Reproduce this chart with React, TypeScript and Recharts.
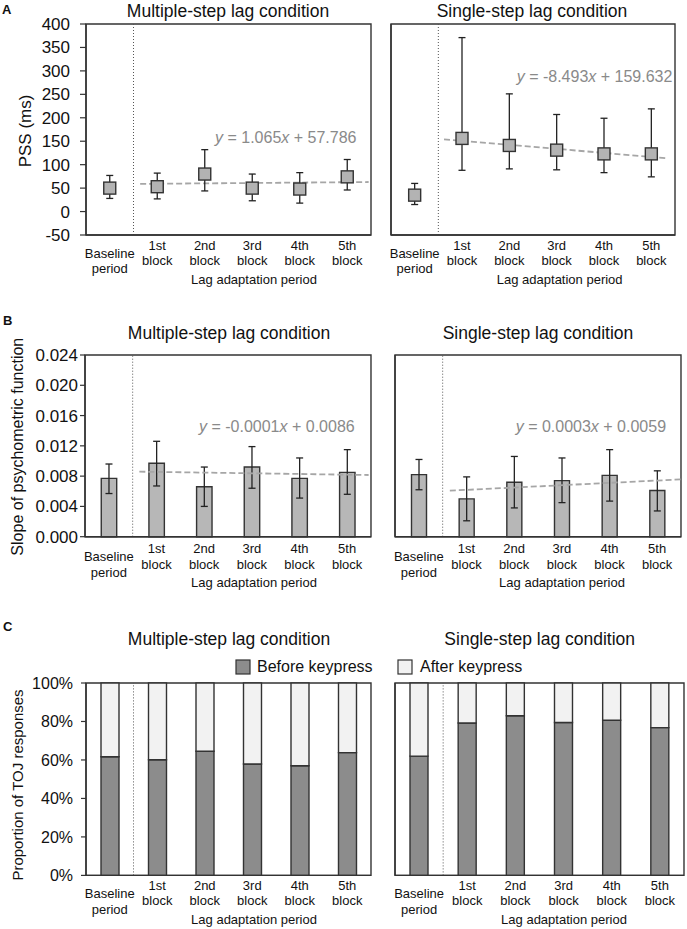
import React from 'react'
import {
  ComposedChart,
  Bar,
  Line,
  Scatter,
  ErrorBar,
  XAxis,
  YAxis,
  ReferenceLine,
  ReferenceArea,
} from 'recharts'

const FONT = '"Liberation Sans", Arial, sans-serif'
const INK = '#333333'

// categories: baseline = 0, blocks 1..5
const CATEGORY_X = [0, 1, 2, 3, 4, 5]
const CATEGORY_LINES = [
  ['Baseline', 'period'],
  ['1st', 'block'],
  ['2nd', 'block'],
  ['3rd', 'block'],
  ['4th', 'block'],
  ['5th', 'block'],
]

// A: PSS (ms)
const PSS_TICKS = [-50, 0, 50, 100, 150, 200, 250, 300, 350, 400]
const PSS_MULTI = [50, 53, 80, 50, 48, 74]
const PSS_MULTI_HI = [77, 82, 132, 80, 83, 111]
const PSS_MULTI_LO = [28, 27, 44, 23, 18, 46]
const PSS_SINGLE = [35, 156, 141, 131, 123, 123]
const PSS_SINGLE_HI = [60, 371, 251, 207, 199, 219]
const PSS_SINGLE_LO = [15, 88, 91, 89, 83, 74]
const PSS_MULTI_TREND = [{ x: 0.64, y: 59 }, { x: 5.45, y: 63 }]
const PSS_SINGLE_TREND = [{ x: 0.62, y: 154 }, { x: 5.3, y: 114 }]

// B: slope of psychometric function
const SLOPE_TICKS = [0, 0.004, 0.008, 0.012, 0.016, 0.02, 0.024]
const SLOPE_MULTI = [0.0077, 0.0097, 0.0066, 0.0092, 0.0077, 0.0085]
const SLOPE_MULTI_HI = [0.0096, 0.0126, 0.0092, 0.0119, 0.0104, 0.0115]
const SLOPE_MULTI_LO = [0.0057, 0.0067, 0.004, 0.0064, 0.0051, 0.0056]
const SLOPE_SINGLE = [0.0082, 0.005, 0.0072, 0.0074, 0.0081, 0.0061]
const SLOPE_SINGLE_HI = [0.0102, 0.0079, 0.0106, 0.0104, 0.0115, 0.0087]
const SLOPE_SINGLE_LO = [0.0062, 0.0021, 0.0038, 0.0045, 0.0047, 0.0034]
const SLOPE_MULTI_TREND = [{ x: 0.64, y: 0.00859 }, { x: 5.45, y: 0.00815 }]
const SLOPE_SINGLE_TREND = [{ x: 0.65, y: 0.00608 }, { x: 5.5, y: 0.00757 }]

// C: proportion of TOJ responses (%)
const PCT_TICKS = [0, 20, 40, 60, 80, 100]
const BEFORE_MULTI = [61.7, 60.1, 64.5, 57.9, 57.0, 63.8]
const AFTER_MULTI = [38.3, 39.9, 35.5, 42.1, 43.0, 36.2]
const BEFORE_SINGLE = [62.0, 79.2, 83.0, 79.5, 80.6, 76.8]
const AFTER_SINGLE = [38.0, 20.8, 17.0, 20.5, 19.4, 23.2]

const withErr = (mean: number[], hi: number[], lo: number[]) =>
  CATEGORY_X.map((x, i) => ({ x, y: mean[i], err: [mean[i] - lo[i], hi[i] - mean[i]] }))

const stacked = (before: number[], after: number[]) =>
  CATEGORY_X.map((x, i) => ({ x, before: before[i], after: after[i] }))

type Geo = { x0: number; x1: number; y0: number; y1: number; yw: number }
const PAD = 10
const XH = 50

function frame(g: Geo) {
  return {
    style: { position: 'absolute' as const, left: g.x0 - g.yw, top: g.y0 - PAD },
    width: g.x1 - g.x0 + g.yw + PAD,
    height: g.y1 - g.y0 + PAD + XH,
    margin: { top: PAD, right: PAD, left: 0, bottom: 0 },
  }
}

function makeTick(offBlock: number, offBase: number, lh: number) {
  return (props: any) => {
    const { x, y, payload } = props
    const lines = CATEGORY_LINES[payload.value] ?? ['', '']
    const off = payload.value === 0 ? offBase : offBlock
    return (
      <text x={x} y={y + off} textAnchor="middle" fontSize={13} fontFamily={FONT} fill="#111">
        <tspan x={x}>{lines[0]}</tspan>
        <tspan x={x} dy={lh}>{lines[1]}</tspan>
      </text>
    )
  }
}

const Square = (props: any) => (
  <rect x={props.cx - 6} y={props.cy - 6} width={12} height={12} fill="#b3b3b3" stroke={INK} strokeWidth={1.4} />
)
const Nothing = () => <g />

function xAxis(tick: any) {
  return (
    <XAxis
      dataKey="x"
      type="number"
      domain={[-0.5, 5.5]}
      ticks={CATEGORY_X}
      interval={0}
      tick={tick}
      tickLine={false}
      tickSize={0}
      tickMargin={0}
      height={XH}
      axisLine={{ stroke: INK, strokeWidth: 1.4 }}
    />
  )
}

function yAxis(
  ticks: number[],
  domain: [number, number],
  width: number,
  labels: boolean,
  fontSize: number,
  tickSize: number,
  tickMargin: number,
  fmt?: (v: number) => string
) {
  return (
    <YAxis
      type="number"
      domain={domain}
      ticks={ticks}
      interval={0}
      width={width}
      tick={labels ? { fontSize, fontFamily: FONT, fill: '#111' } : false}
      tickFormatter={fmt}
      tickSize={tickSize}
      tickMargin={tickMargin}
      tickLine={{ stroke: INK, strokeWidth: 1.2 }}
      axisLine={{ stroke: INK, strokeWidth: 1.4 }}
    />
  )
}

function border(y1: number, y2: number) {
  return <ReferenceArea x1={-0.5} x2={5.5} y1={y1} y2={y2} fill="none" stroke={INK} strokeWidth={1.4} />
}

const separator = <ReferenceLine x={0.5} stroke="#555" strokeDasharray="1 2" strokeWidth={1} />

function PssPanel({ geo, mean, hi, lo, trend, labels }: any) {
  const f = frame(geo)
  const data = withErr(mean, hi, lo)
  return (
    <div style={f.style}>
      <ComposedChart width={f.width} height={f.height} margin={f.margin}>
        {xAxis(makeTick(14.8, 22.6, 15.5))}
        {yAxis(PSS_TICKS, [-50, 400], geo.yw, labels, 17, 6, 10)}
        {border(-50, 400)}
        {separator}
        <Line data={trend} dataKey="y" stroke="#a6a6a6" strokeWidth={1.8} strokeDasharray="6 3" dot={false} isAnimationActive={false} />
        <Scatter data={data} dataKey="y" shape={Nothing} isAnimationActive={false}>
          <ErrorBar dataKey="err" direction="y" width={3.5} stroke="#222" strokeWidth={1.3} />
        </Scatter>
        <Scatter data={data} dataKey="y" shape={Square} isAnimationActive={false} />
      </ComposedChart>
    </div>
  )
}

function SlopePanel({ geo, mean, hi, lo, trend, labels }: any) {
  const f = frame(geo)
  const data = withErr(mean, hi, lo)
  return (
    <div style={f.style}>
      <ComposedChart width={f.width} height={f.height} margin={f.margin} data={data}>
        {xAxis(makeTick(16.2, 24.6, 16))}
        {yAxis(SLOPE_TICKS, [0, 0.024], geo.yw, labels, 17, 5, 2, (v) => v.toFixed(3))}
        {border(0, 0.024)}
        {separator}
        <Bar dataKey="y" barSize={19} fill="#b7b7b7" stroke={INK} strokeWidth={1.4} isAnimationActive={false}>
          <ErrorBar dataKey="err" direction="y" width={3.5} stroke="#222" strokeWidth={1.3} />
        </Bar>
        <Line data={trend} dataKey="y" stroke="#a6a6a6" strokeWidth={1.8} strokeDasharray="6 3" dot={false} isAnimationActive={false} />
      </ComposedChart>
    </div>
  )
}

function PctPanel({ geo, before, after, labels }: any) {
  const f = frame(geo)
  const data = stacked(before, after)
  return (
    <div style={f.style}>
      <ComposedChart width={f.width} height={f.height} margin={f.margin} data={data}>
        {xAxis(makeTick(14.6, 22.9, 15.5))}
        {yAxis(PCT_TICKS, [0, 100], geo.yw, labels, 16, 5, 8, (v) => `${v}%`)}
        {border(0, 100)}
        {separator}
        <Bar dataKey="before" stackId="s" barSize={18} fill="#8c8c8c" stroke={INK} strokeWidth={1.4} isAnimationActive={false} />
        <Bar dataKey="after" stackId="s" barSize={18} fill="#f2f2f2" stroke={INK} strokeWidth={1.4} isAnimationActive={false} />
      </ComposedChart>
    </div>
  )
}

const A_LEFT: Geo = { x0: 86, x1: 371, y0: 24, y1: 235, yw: 86 }
const A_RIGHT: Geo = { x0: 391, x1: 675, y0: 24, y1: 235, yw: 20 }
const B_LEFT: Geo = { x0: 85, x1: 371, y0: 355, y1: 536.7, yw: 85 }
const B_RIGHT: Geo = { x0: 395, x1: 681, y0: 355, y1: 536.7, yw: 20 }
const C_LEFT: Geo = { x0: 86, x1: 371, y0: 683.3, y1: 875.7, yw: 86 }
const C_RIGHT: Geo = { x0: 395, x1: 684, y0: 683.3, y1: 875.7, yw: 20 }

function Equation({ x, y, slope, intercept }: { x: number; y: number; slope: string; intercept: string }) {
  return (
    <text x={x} y={y} fontSize={16} fontFamily={FONT} fill="#8a8a8a">
      <tspan fontStyle="italic">y</tspan>
      {` = ${slope}`}
      <tspan fontStyle="italic">x</tspan>
      {` + ${intercept}`}
    </text>
  )
}

function Overlay() {
  const t = { fontFamily: FONT, fill: '#111' }
  const lag = 'Lag adaptation period'
  return (
    <svg width={687} height={929} style={{ position: 'absolute', left: 0, top: 0, pointerEvents: 'none' }}>
      <g {...t} fontWeight="bold" fontSize={13}>
        <text x={2} y={13.5}>A</text>
        <text x={3} y={325}>B</text>
        <text x={3} y={630.5}>C</text>
      </g>
      <g {...t} fontSize={17.5} textAnchor="middle">
        <text x={228} y={17}>Multiple-step lag condition</text>
        <text x={532} y={17}>Single-step lag condition</text>
        <text x={229} y={339.3}>Multiple-step lag condition</text>
        <text x={538} y={339.3}>Single-step lag condition</text>
        <text x={229} y={645}>Multiple-step lag condition</text>
        <text x={539.7} y={645}>Single-step lag condition</text>
      </g>
      <g {...t} textAnchor="middle">
        <text x={31} y={131} fontSize={17} transform="rotate(-90 31 131)">PSS (ms)</text>
        <text x={23.5} y={446.7} fontSize={16} transform="rotate(-90 23.5 446.7)">Slope of psychometric function</text>
        <text x={22.5} y={785} fontSize={15} transform="rotate(-90 22.5 785)">Proportion of TOJ responses</text>
      </g>
      <g {...t} fontSize={13} textAnchor="middle">
        <text x={254} y={283.5}>{lag}</text>
        <text x={559.7} y={283.5}>{lag}</text>
        <text x={254} y={586.5}>{lag}</text>
        <text x={562} y={586.5}>{lag}</text>
        <text x={254} y={924}>{lag}</text>
        <text x={564} y={924}>{lag}</text>
      </g>
      <Equation x={215} y={142.7} slope="1.065" intercept="57.786" />
      <Equation x={516.7} y={81.7} slope="-8.493" intercept="159.632" />
      <Equation x={199} y={431.7} slope="-0.0001" intercept="0.0086" />
      <Equation x={515.7} y={432.3} slope="0.0003" intercept="0.0059" />
      <rect x={236} y={660} width={14} height={14} fill="#8c8c8c" stroke={INK} strokeWidth={1.2} />
      <text {...t} x={257} y={671.7} fontSize={16}>Before keypress</text>
      <rect x={398} y={660} width={14} height={14} fill="#f2f2f2" stroke={INK} strokeWidth={1.2} />
      <text {...t} x={420} y={671.7} fontSize={16}>After keypress</text>
    </svg>
  )
}

export default function App() {
  return (
    <div style={{ position: 'absolute', left: 0, top: 0, width: 687, height: 929, background: '#fff' }}>
      <PssPanel geo={A_LEFT} mean={PSS_MULTI} hi={PSS_MULTI_HI} lo={PSS_MULTI_LO} trend={PSS_MULTI_TREND} labels />
      <PssPanel geo={A_RIGHT} mean={PSS_SINGLE} hi={PSS_SINGLE_HI} lo={PSS_SINGLE_LO} trend={PSS_SINGLE_TREND} labels={false} />
      <SlopePanel geo={B_LEFT} mean={SLOPE_MULTI} hi={SLOPE_MULTI_HI} lo={SLOPE_MULTI_LO} trend={SLOPE_MULTI_TREND} labels />
      <SlopePanel geo={B_RIGHT} mean={SLOPE_SINGLE} hi={SLOPE_SINGLE_HI} lo={SLOPE_SINGLE_LO} trend={SLOPE_SINGLE_TREND} labels={false} />
      <PctPanel geo={C_LEFT} before={BEFORE_MULTI} after={AFTER_MULTI} labels />
      <PctPanel geo={C_RIGHT} before={BEFORE_SINGLE} after={AFTER_SINGLE} labels={false} />
      <Overlay />
    </div>
  )
}
